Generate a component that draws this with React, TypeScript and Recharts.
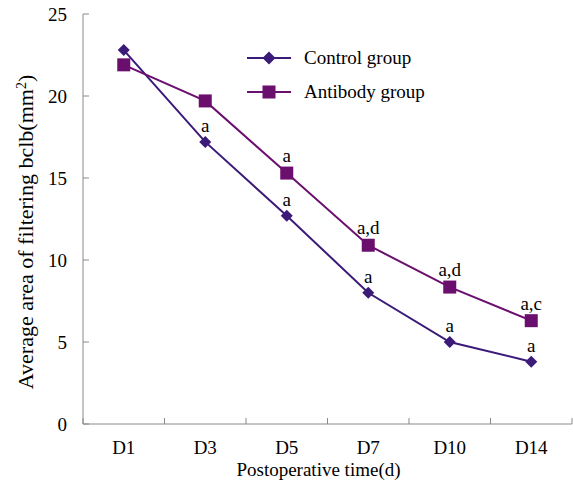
import React from "react";
import { LineChart, Line, XAxis, YAxis, Legend, LabelList } from "recharts";

const categories = ["D1", "D3", "D5", "D7", "D10", "D14"];
const controlValues = [22.8, 17.2, 12.7, 8.0, 5.0, 3.8];
const antibodyValues = [21.9, 19.7, 15.3, 10.9, 8.35, 6.3];
const controlMarks = ["", "a", "a", "a", "a", "a"];
const antibodyMarks = ["", "", "a", "a,d", "a,d", "a,c"];
const yTicks = [0, 5, 10, 15, 20, 25];
const seriesOrder = ["control", "antibody"];

const data = categories.map((c, i) => ({
  day: c,
  control: controlValues[i],
  antibody: antibodyValues[i],
  controlMark: controlMarks[i],
  antibodyMark: antibodyMarks[i],
}));

const FONT = "Liberation Serif, Tinos, DejaVu Serif, Noto Serif, Times New Roman, serif";
const FS = 19;
const AXIS = "#8a8a8a";
const CONTROL = "#3b1a78";
const ANTIBODY = "#6b0f6f";
const TICK_LEN = 6;
const X_MARGIN = 17;
const Y_MARGIN = 16;
const textStyle = { fontFamily: FONT, fontSize: FS, fill: "#000" };

const Diamond = ({ cx, cy, fill, size = 6 }: any) =>
  cx == null || cy == null ? null : (
    <polygon
      points={`${cx},${cy - size} ${cx + size},${cy} ${cx},${cy + size} ${cx - size},${cy}`}
      fill={fill}
    />
  );

const Square = ({ cx, cy, fill, size = 6.5 }: any) =>
  cx == null || cy == null ? null : (
    <rect x={cx - size} y={cy - size} width={size * 2} height={size * 2} fill={fill} />
  );

const XTick = (props: any) => {
  const { x, y, payload, index, visibleTicksCount } = props;
  const half = payload && payload.offset ? payload.offset : 0;
  const axisY = y - X_MARGIN;
  return (
    <g>
      <line x1={x - half} x2={x - half} y1={axisY} y2={axisY - TICK_LEN} stroke={AXIS} />
      {index === visibleTicksCount - 1 ? (
        <line x1={x + half} x2={x + half} y1={axisY} y2={axisY - TICK_LEN} stroke={AXIS} />
      ) : null}
      <text x={x} y={y} dy="0.71em" textAnchor="middle" style={textStyle}>
        {payload.value}
      </text>
    </g>
  );
};

const YTick = (props: any) => {
  const { x, y, payload } = props;
  const axisX = x + Y_MARGIN;
  return (
    <g>
      <line x1={axisX} x2={axisX + TICK_LEN} y1={y} y2={y} stroke={AXIS} />
      <text x={x} y={y} dy="0.355em" textAnchor="end" style={textStyle}>
        {payload.value}
      </text>
    </g>
  );
};

const YTitle = (props: any) => {
  const vb = props.viewBox || {};
  const cx = vb.x + 33;
  const cy = vb.y + vb.height / 2 + 13;
  return (
    <text
      x={cx}
      y={cy}
      transform={`rotate(-90 ${cx} ${cy})`}
      textAnchor="middle"
      style={{ fontFamily: FONT, fontSize: 22, fill: "#000" }}
    >
      Average area of filtering bclb(mm
      <tspan baselineShift="super" style={{ fontSize: 14 }}>2</tspan>
      <tspan>)</tspan>
    </text>
  );
};

const LegendContent = (props: any) => {
  const payload = [...(props.payload || [])].sort(
    (a: any, b: any) => seriesOrder.indexOf(a.dataKey) - seriesOrder.indexOf(b.dataKey)
  );
  return (
    <div style={{ fontFamily: FONT, fontSize: FS, color: "#000" }}>
      {payload.map((p: any) => (
        <div key={p.value} style={{ display: "flex", alignItems: "center", height: 34 }}>
          <svg width={44} height={16} style={{ display: "block" }}>
            <line x1={0} x2={44} y1={8} y2={8} stroke={p.color} strokeWidth={2} />
            {p.dataKey === "control" ? (
              <Diamond cx={22} cy={8} fill={p.color} size={6.5} />
            ) : (
              <Square cx={22} cy={8} fill={p.color} size={6.5} />
            )}
          </svg>
          <span style={{ marginLeft: 13 }}>{p.value}</span>
        </div>
      ))}
    </div>
  );
};

const MarkLabel = (props: any) => {
  const { x, y, width, value, offset } = props;
  if (!value) return null;
  const cx = x + (width || 0) / 2;
  return (
    <text x={cx} y={y - offset} textAnchor="middle" style={textStyle}>
      {value}
    </text>
  );
};

export default function App() {
  return (
    <div style={{ position: "absolute", left: 0, top: 0, width: 573, height: 486, background: "#fff" }}>
      <LineChart
        width={573}
        height={486}
        data={data}
        margin={{ top: 14, right: 1, bottom: 0, left: 0 }}
      >
        <XAxis
          dataKey="day"
          scale="band"
          height={62}
          tickSize={0}
          tickMargin={X_MARGIN}
          tickLine={false}
          axisLine={{ stroke: AXIS }}
          tick={<XTick />}
          interval={0}
          label={{
            value: "Postoperative time(d)",
            position: "insideBottom",
            offset: 10,
            dx: -9,
            style: textStyle,
          }}
        />
        <YAxis
          domain={[0, 25]}
          ticks={yTicks}
          width={83}
          tickSize={0}
          tickMargin={Y_MARGIN}
          tickLine={false}
          axisLine={{ stroke: AXIS }}
          tick={<YTick />}
          interval={0}
          label={<YTitle />}
        />
        <Legend
          layout="vertical"
          align="center"
          verticalAlign="middle"
          content={<LegendContent />}
          wrapperStyle={{ position: "absolute", left: 247, top: 41, width: 220 }}
        />
        <Line
          name="Control group"
          dataKey="control"
          stroke={CONTROL}
          strokeWidth={2}
          isAnimationActive={false}
          dot={<Diamond fill={CONTROL} size={6} />}
          activeDot={false}
        >
          <LabelList dataKey="controlMark" position="top" offset={10} content={<MarkLabel />} />
        </Line>
        <Line
          name="Antibody group"
          dataKey="antibody"
          stroke={ANTIBODY}
          strokeWidth={2}
          isAnimationActive={false}
          dot={<Square fill={ANTIBODY} size={6.5} />}
          activeDot={false}
        >
          <LabelList dataKey="antibodyMark" position="top" offset={11} content={<MarkLabel />} />
        </Line>
      </LineChart>
    </div>
  );
}
